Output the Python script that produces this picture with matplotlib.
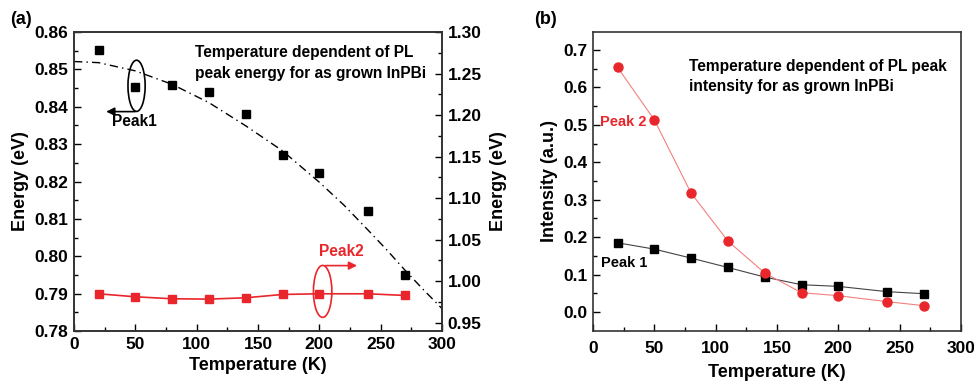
import numpy as np
import matplotlib.pyplot as plt
from matplotlib.patches import Ellipse

plt.rcParams['font.family'] = ['Liberation Sans', 'DejaVu Sans']
plt.rcParams['font.weight'] = 'bold'
plt.rcParams['axes.labelweight'] = 'bold'

# temperatures (K)
temp = [20, 50, 80, 110, 140, 170, 200, 240, 270]

# (a) peak energies
peak1_energy = [0.8551, 0.8453, 0.8459, 0.8440, 0.8380, 0.8270, 0.8223, 0.8122, 0.7951]
peak2_energy = [0.9848, 0.9812, 0.9788, 0.9784, 0.9800, 0.9840, 0.9848, 0.9848, 0.9828]  # right axis
# dash-dot fit curve
fit_temp = [0, 20, 50, 80, 110, 140, 170, 200, 220, 240, 255, 270, 285, 300]
fit_energy = [0.8521, 0.8518, 0.8496, 0.8460, 0.8411, 0.8349, 0.8282, 0.8198, 0.8137, 0.8069, 0.8017, 0.7962, 0.7910, 0.7860]

# (b) peak intensities
peak1_int = [0.185, 0.168, 0.144, 0.119, 0.0934, 0.0729, 0.0685, 0.0543, 0.0489]
peak2_int = [0.6537, 0.5132, 0.3175, 0.1895, 0.1041, 0.0516, 0.0436, 0.0276, 0.0169]

red = '#e8262b'

fig = plt.figure(figsize=(9.74, 3.85), dpi=100)
ax1 = fig.add_axes([74/974, 1-331/385, 368/974, 299/385])
ax2 = fig.add_axes([593/974, 1-331/385, 368/974, 299/385])

def style(ax):
    ax.tick_params(direction='in', which='both', labelsize=12.5, width=1, pad=4)
    ax.tick_params(which='major', length=5)
    ax.tick_params(which='minor', length=3)
    for s in ax.spines.values():
        s.set_linewidth(1.2)
        s.set_color('#333333')

#%% panel (a)
ax1.plot(fit_temp, fit_energy, color='black', ls=(0, (6, 3, 1, 3)), lw=1)
ax1.plot(temp, peak1_energy, 's', color='black', ms=6)
ax1.set_xlim(0, 300)
ax1.set_ylim(0.78, 0.86)
ax1.set_xticks(np.arange(0, 301, 50))
ax1.set_xticks(np.arange(25, 300, 50), minor=True)
ax1.set_yticks(np.arange(0.78, 0.861, 0.01))
ax1.set_yticks(np.arange(0.785, 0.86, 0.01), minor=True)
ax1.set_yticklabels([f'{v:.2f}' for v in np.arange(0.78, 0.861, 0.01)])
ax1.set_xlabel('Temperature (K)', fontsize=13, labelpad=4)
ax1.set_ylabel('Energy (eV)', fontsize=13, labelpad=4)
ax1.tick_params(top=False, right=False)
style(ax1)

ax1r = ax1.twinx()
ax1r.plot(temp, peak2_energy, 's-', color=red, ms=6, lw=1.2)
ax1r.set_ylim(0.94, 1.30)
ax1r.set_yticks(np.arange(0.95, 1.301, 0.05))
ax1r.set_yticks(np.arange(0.975, 1.30, 0.05), minor=True)
ax1r.set_yticklabels([f'{v:.2f}' for v in np.arange(0.95, 1.301, 0.05)])
ax1r.set_ylabel('Energy (eV)', fontsize=13, labelpad=6)
style(ax1r)

ax1.text(0.33, 0.955, 'Temperature dependent of PL\npeak energy for as grown InPBi',
         transform=ax1.transAxes, fontsize=11.2, va='top', ha='left', linespacing=1.45)

ax1.add_patch(Ellipse((51, 0.8456), 14, 0.0137, fill=False, ec='black', lw=1.2))
ax1.annotate('', xy=(24, 0.8387), xytext=(52, 0.8387),
             arrowprops=dict(arrowstyle='-|>', color='black', lw=1.2, mutation_scale=12))
ax1.text(49, 0.8361, 'Peak1', fontsize=11.2, ha='center', va='center')

ax1.add_patch(Ellipse((202.7, 0.7906), 15, 0.0139, fill=False, ec=red, lw=1.2))
ax1.annotate('', xy=(233, 0.7975), xytext=(202.7, 0.7975),
             arrowprops=dict(arrowstyle='-|>', color=red, lw=1.2, mutation_scale=12))
ax1.text(218, 0.8014, 'Peak2', fontsize=11.2, ha='center', va='center', color=red)

fig.text(10/974, 1-20/385, '(a)', fontsize=13, va='center', ha='left')

#%% panel (b)
ax2.plot(temp, peak1_int, 's-', color='#444444', ms=6, lw=0.8, mfc='black', mec='black')
ax2.plot(temp, peak2_int, 'o-', color='#f28080', ms=6.5, lw=0.8, mfc=red, mec=red)
ax2.set_xlim(0, 300)
ax2.set_ylim(-0.0507, 0.748)
ax2.set_xticks(np.arange(0, 301, 50))
ax2.set_xticks(np.arange(25, 300, 50), minor=True)
ax2.set_yticks(np.arange(0, 0.71, 0.1))
ax2.set_yticks(np.arange(0.05, 0.71, 0.1), minor=True)
ax2.set_yticklabels([f'{v:.1f}' for v in np.arange(0, 0.71, 0.1)])
ax2.set_xlabel('Temperature (K)', fontsize=13, labelpad=6)
ax2.set_ylabel('Intensity (a.u.)', fontsize=13, labelpad=4)
ax2.tick_params(top=False, right=False)
style(ax2)
ax2.tick_params(axis='x', pad=7)

ax2.text(0.262, 0.91, 'Temperature dependent of PL peak\nintensity for as grown InPBi',
         transform=ax2.transAxes, fontsize=11.2, va='top', ha='left', linespacing=1.45)
ax2.text(44, 0.507, 'Peak 2', fontsize=10.5, ha='right', va='center', color=red)
ax2.text(44, 0.131, 'Peak 1', fontsize=10.5, ha='right', va='center', color='black')

fig.text(534/974, 1-20/385, '(b)', fontsize=13, va='center', ha='left')

plt.savefig('out.png', dpi=100)
